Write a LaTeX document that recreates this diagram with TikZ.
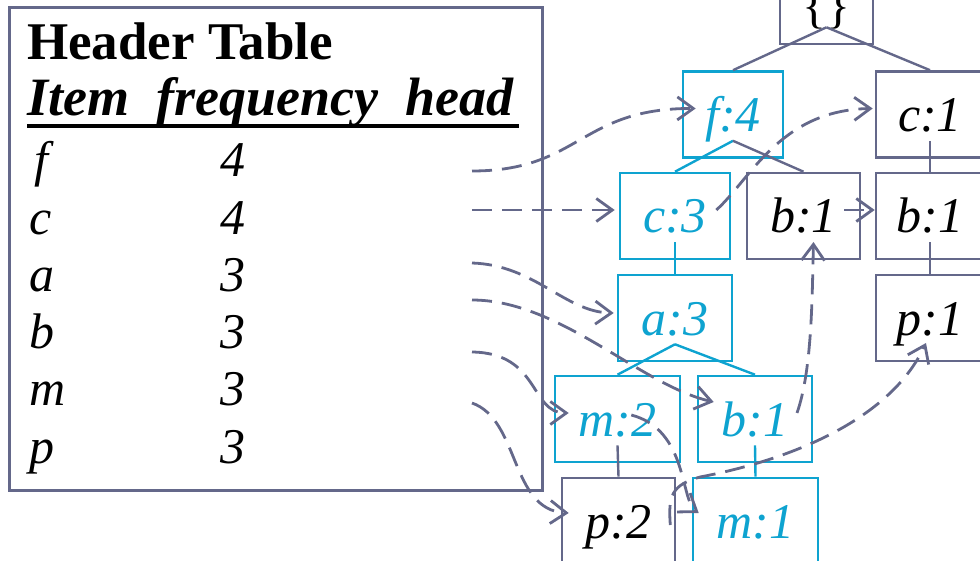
\documentclass[tikz,border=0pt]{standalone}
\usepackage{fontspec}
\setmainfont{Liberation Serif}
\usetikzlibrary{arrows.meta}
\definecolor{fpblue}{RGB}{14,163,208}
\definecolor{fpgray}{RGB}{100,104,138}
\newcommand{\BIG}{\fontsize{50}{60}\selectfont}
\newcommand{\UP}{18pt}

\begin{document}
\begin{tikzpicture}[
    x=1pt, y=-1pt,
    >={Straight Barb[length=16pt,width=23pt]},
    box/.style={draw=fpgray, line width=2.6pt, minimum height=86pt, inner sep=0pt,
      text height=34pt, text depth=0pt, font=\BIG\itshape},
    bnode/.style={box, draw=fpblue, text=fpblue},
    gnode/.style={box, text=black},
    edge/.style={draw=fpgray, line width=2.4pt},
    bedge/.style={draw=fpblue, line width=2.4pt},
    link/.style={draw=fpgray, line width=2.8pt, dash pattern=on 20pt off 10pt, ->},
    row/.style={anchor=base west, inner sep=0pt, font=\BIG\itshape},
  ]
  \useasboundingbox (0,0) rectangle (980,561);
  \clip (0,0) rectangle (980,561);

  %% ================= the header table =================
  \node[draw=fpgray, line width=2.8pt, minimum width=533pt, minimum height=483pt,
    anchor=north west, inner sep=0pt] (htab) at (8,6) {};
  \node[anchor=base west, inner sep=0pt, font=\fontsize{53}{60}\selectfont\bfseries]
    (title) at (27,60) {Header Table};
  \node[anchor=base west, inner sep=0pt, font=\fontsize{54}{60}\selectfont\bfseries\itshape]
    (cols) at (27,116) {Item\ \ frequency\ \ head};
  \draw[line width=4pt] (27,126) -- (519,126);

  \foreach \it/\fr/\ya/\xa [count=\k] in {f/4/171/34,c/4/210/29,a/3/263/29,b/3/300/29,m/3/352/29,p/3/403/29} {
    \node[row] (it-\it) at (\xa,{177+57.2*(\k-1)}) {\it};
    \node[row] (fr-\it) at (220,{177+57.2*(\k-1)}) {\fr};
    \coordinate (h-\it) at (472,\ya);
  }

  %% ================= the FP-tree =================
  \node[gnode, minimum width=93pt, font=\BIG, text height=44pt] (root) at (826.5,1) {\{\}};
  \node[bnode, minimum width=100pt] (f4)  at (733,114.5) {f:4};
  \node[gnode, minimum width=108pt] (c1)  at (930,114.5) {c:1};
  \node[bnode, minimum width=110pt] (c3)  at (675,216)   {c:3};
  \node[gnode, minimum width=113pt] (b1m) at (803.5,216) {b:1};
  \node[gnode, minimum width=108pt] (b1r) at (930,216)   {b:1};
  \node[bnode, minimum width=114pt] (a3)  at (675,318)   {a:3};
  \node[gnode, minimum width=108pt] (p1)  at (930,318)   {p:1};
  \node[bnode, minimum width=125pt] (m2)  at (617.5,419) {m:2};
  \node[bnode, minimum width=114pt] (b1b) at (755,419)   {b:1};
  \node[gnode, minimum width=113pt] (p2)  at (618.5,521) {p:2};
  \node[bnode, minimum width=125pt] (m1)  at (755.5,521) {m:1};

  % parent -> child, from just under the parent's label
  \draw[edge]  ([yshift=\UP]root.south) -- (f4.north);
  \draw[edge]  ([yshift=\UP]root.south) -- (c1.north);
  \draw[bedge] ([yshift=\UP]f4.south)   -- (c3.north);
  \draw[edge]  ([yshift=\UP]f4.south)   -- (b1m.north);
  \draw[edge]  ([yshift=\UP]c1.south)   -- (b1r.north);
  \draw[bedge] ([yshift=\UP]c3.south)   -- (a3.north);
  \draw[edge]  ([yshift=\UP]b1r.south)  -- (p1.north);
  \draw[bedge] ([yshift=\UP]a3.south)   -- (m2.north);
  \draw[bedge] ([yshift=\UP]a3.south)   -- (b1b.north);
  \draw[edge]  ([yshift=\UP]m2.south)   -- (p2.north);
  \draw[bedge] ([yshift=\UP]b1b.south)  -- (m1.north);

  %% ================= node-links =================
  % from the table heads
  \draw[link] (h-f) .. controls (580,171) and (580,108) .. ([xshift=14pt,yshift=6pt]f4.west);
  \draw[link] (h-c) -- ([xshift=-4pt,yshift=6pt]c3.west);
  \draw[link] (h-a) .. controls (535,265) and (565,312) .. ([xshift=-3pt,yshift=5pt]a3.west);
  \draw[link] (h-b) .. controls (560,300) and (640,385) .. ([xshift=17pt,yshift=17pt]b1b.west);
  \draw[link] (h-m) .. controls (540,353) and (530,413) .. ([xshift=15pt,yshift=6pt]m2.west);
  \draw[link] (h-p) .. controls (520,420) and (510,510) .. ([xshift=8pt,yshift=8pt]p2.west);
  % between the tree nodes
  \draw[link] ([xshift=-15pt,yshift=6pt]c3.east) .. controls (750,180) and (780,110) .. ([xshift=-2pt,yshift=6pt]c1.west);
  \draw[link] ([xshift=-17pt,yshift=6pt]b1m.east) -- ([yshift=6pt]b1r.west);
  \draw[link] ([xshift=-50pt,yshift=4pt]m2.east) .. controls (688,430) and (680,500) .. ([xshift=7pt,yshift=8pt]m1.west);
  \draw[link] ([xshift=42pt,yshift=6pt]b1b.center) .. controls (812,370) and (812,300) .. ([xshift=10pt,yshift=-26pt]b1m.center);
  \draw[link] ([xshift=-6pt,yshift=-4pt]p2.east) .. controls (668,495) and (672,485) .. (700,477)
    .. controls (790,460) and (890,420) .. ([xshift=-4pt,yshift=-25pt]p1.center);

\end{tikzpicture}
\end{document}
